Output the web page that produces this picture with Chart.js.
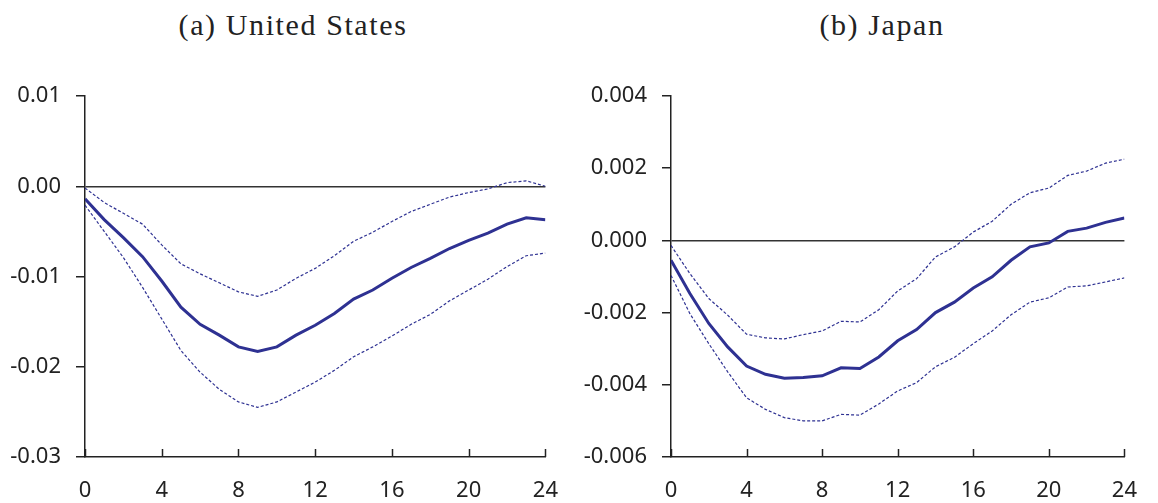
<!DOCTYPE html>
<html>
<head>
<meta charset="utf-8">
<script src="https://cdn.jsdelivr.net/npm/chart.js@4.4.1/dist/chart.umd.min.js"></script>
<style>
  body { margin: 0; background: #fff; width: 1158px; height: 503px; position: relative; overflow: hidden; }
  .title { position: absolute; top: 8px; font-family: "Liberation Serif", serif; font-size: 30px; letter-spacing: 1.6px; color: #222; transform: translateX(-50%); white-space: nowrap; }
  canvas { position: absolute; top: 0; }
</style>
</head>
<body>
<div class="title" style="left:293px">(a) United States</div>
<div class="title" style="left:882px">(b) Japan</div>
<canvas id="us" width="579" height="503" style="left:0"></canvas>
<canvas id="jp" width="579" height="503" style="left:579px"></canvas>
<script>
const horizons = [0,1,2,3,4,5,6,7,8,9,10,11,12,13,14,15,16,17,18,19,20,21,22,23,24];

const usMid = [-0.0014,-0.0037,-0.0057,-0.0078,-0.0105,-0.0134,-0.0153,-0.0165,-0.0178,-0.0183,-0.0178,-0.0165,-0.0154,-0.0141,-0.0125,-0.0115,-0.0102,-0.0090,-0.0080,-0.0069,-0.0060,-0.0052,-0.0042,-0.0035,-0.0037];
const usUpper = [-0.0002,-0.0018,-0.0030,-0.0042,-0.0065,-0.0086,-0.0097,-0.0107,-0.0117,-0.0122,-0.0115,-0.0102,-0.0091,-0.0077,-0.0061,-0.0051,-0.0039,-0.0028,-0.0020,-0.0012,-0.0007,-0.0003,0.0004,0.0006,0.0000];
const usLower = [-0.0021,-0.0050,-0.0079,-0.0112,-0.0147,-0.0182,-0.0206,-0.0225,-0.0239,-0.0245,-0.0239,-0.0228,-0.0217,-0.0204,-0.0189,-0.0178,-0.0166,-0.0153,-0.0142,-0.0127,-0.0115,-0.0103,-0.0089,-0.0077,-0.0074];

const jpMid = [-0.00055,-0.00147,-0.00230,-0.00295,-0.00348,-0.00371,-0.00382,-0.00380,-0.00375,-0.00353,-0.00355,-0.00323,-0.00278,-0.00247,-0.00200,-0.00171,-0.00132,-0.00101,-0.00055,-0.00018,-0.00007,0.00025,0.00034,0.00050,0.00062];
const jpUpper = [-0.00014,-0.00092,-0.00161,-0.00207,-0.00260,-0.00270,-0.00273,-0.00261,-0.00251,-0.00224,-0.00226,-0.00192,-0.00140,-0.00106,-0.00046,-0.00018,0.00023,0.00053,0.00100,0.00132,0.00145,0.00180,0.00192,0.00214,0.00225];
const jpLower = [-0.00097,-0.00203,-0.00286,-0.00364,-0.00436,-0.00468,-0.00491,-0.00500,-0.00500,-0.00482,-0.00484,-0.00453,-0.00417,-0.00394,-0.00350,-0.00324,-0.00286,-0.00251,-0.00206,-0.00171,-0.00159,-0.00129,-0.00126,-0.00115,-0.00104];

const usTicks = [0.01, 0.00, -0.01, -0.02, -0.03];
const jpTicks = [0.004, 0.002, 0.000, -0.002, -0.004, -0.006];
const xTicks = [0, 4, 8, 12, 16, 20, 24];

const navy = "#2e3192";
const ink = "#222";

// short tick marks pointing up from the x axis
const innerTicks = {
  id: "innerTicks",
  afterDraw(chart) {
    const { ctx, scales: { x, y } } = chart;
    ctx.save();
    ctx.strokeStyle = ink;
    ctx.lineWidth = 1.5;
    xTicks.forEach(v => {
      const px = Math.round(x.getPixelForValue(v)) + 0.5;
      ctx.beginPath();
      ctx.moveTo(px, y.bottom);
      ctx.lineTo(px, y.bottom - 8);
      ctx.stroke();
    });
    ctx.restore();
  }
};

function series(vals) {
  return vals.map((v, i) => ({ x: horizons[i], y: v }));
}

function makeChart(id, mid, upper, lower, yTicks, digits, axisW, padRight) {
  const fmt = v => (Math.abs(v) < 1e-9 ? 0 : v).toFixed(digits);
  return new Chart(document.getElementById(id), {
    type: "line",
    data: {
      datasets: [
        { data: series(upper), borderColor: navy, borderWidth: 1.2, borderDash: [3, 2], pointRadius: 0, tension: 0 },
        { data: series(lower), borderColor: navy, borderWidth: 1.2, borderDash: [3, 2], pointRadius: 0, tension: 0 },
        { data: series(mid), borderColor: navy, borderWidth: 3, pointRadius: 0, tension: 0 }
      ]
    },
    options: {
      responsive: false,
      animation: false,
      devicePixelRatio: 1,
      layout: { padding: { top: 96, right: padRight, bottom: 0, left: 0 } },
      plugins: { legend: { display: false }, tooltip: { enabled: false } },
      scales: {
        x: {
          type: "linear",
          min: 0, max: 24,
          afterBuildTicks: s => { s.ticks = xTicks.map(v => ({ value: v })); },
          afterFit: s => { s.height = 46; },
          grid: { display: true, drawOnChartArea: false, drawTicks: false, color: "transparent" },
          border: { display: true, color: ink, width: 1.5 },
          ticks: { padding: 21, color: ink, font: { family: "Noto Sans", size: 22 }, maxRotation: 0 }
        },
        y: {
          min: yTicks[yTicks.length - 1], max: yTicks[0],
          afterBuildTicks: s => { s.ticks = yTicks.map(v => ({ value: v })); },
          afterFit: s => { s.width = axisW; },
          grid: {
            color: c => (c.tick && Math.abs(c.tick.value) < 1e-9 ? "#333" : "transparent"),
            lineWidth: 1.5,
            tickColor: ink,
            tickLength: 9
          },
          border: { display: true, color: ink, width: 1.5 },
          ticks: { padding: 15, color: ink, font: { family: "Noto Sans", size: 22 }, callback: fmt }
        }
      }
    },
    plugins: [innerTicks]
  });
}

makeChart("us", usMid, usUpper, usLower, usTicks, 2, 85, 30);
makeChart("jp", jpMid, jpUpper, jpLower, jpTicks, 3, 92, 16);
</script>
</body>
</html>
